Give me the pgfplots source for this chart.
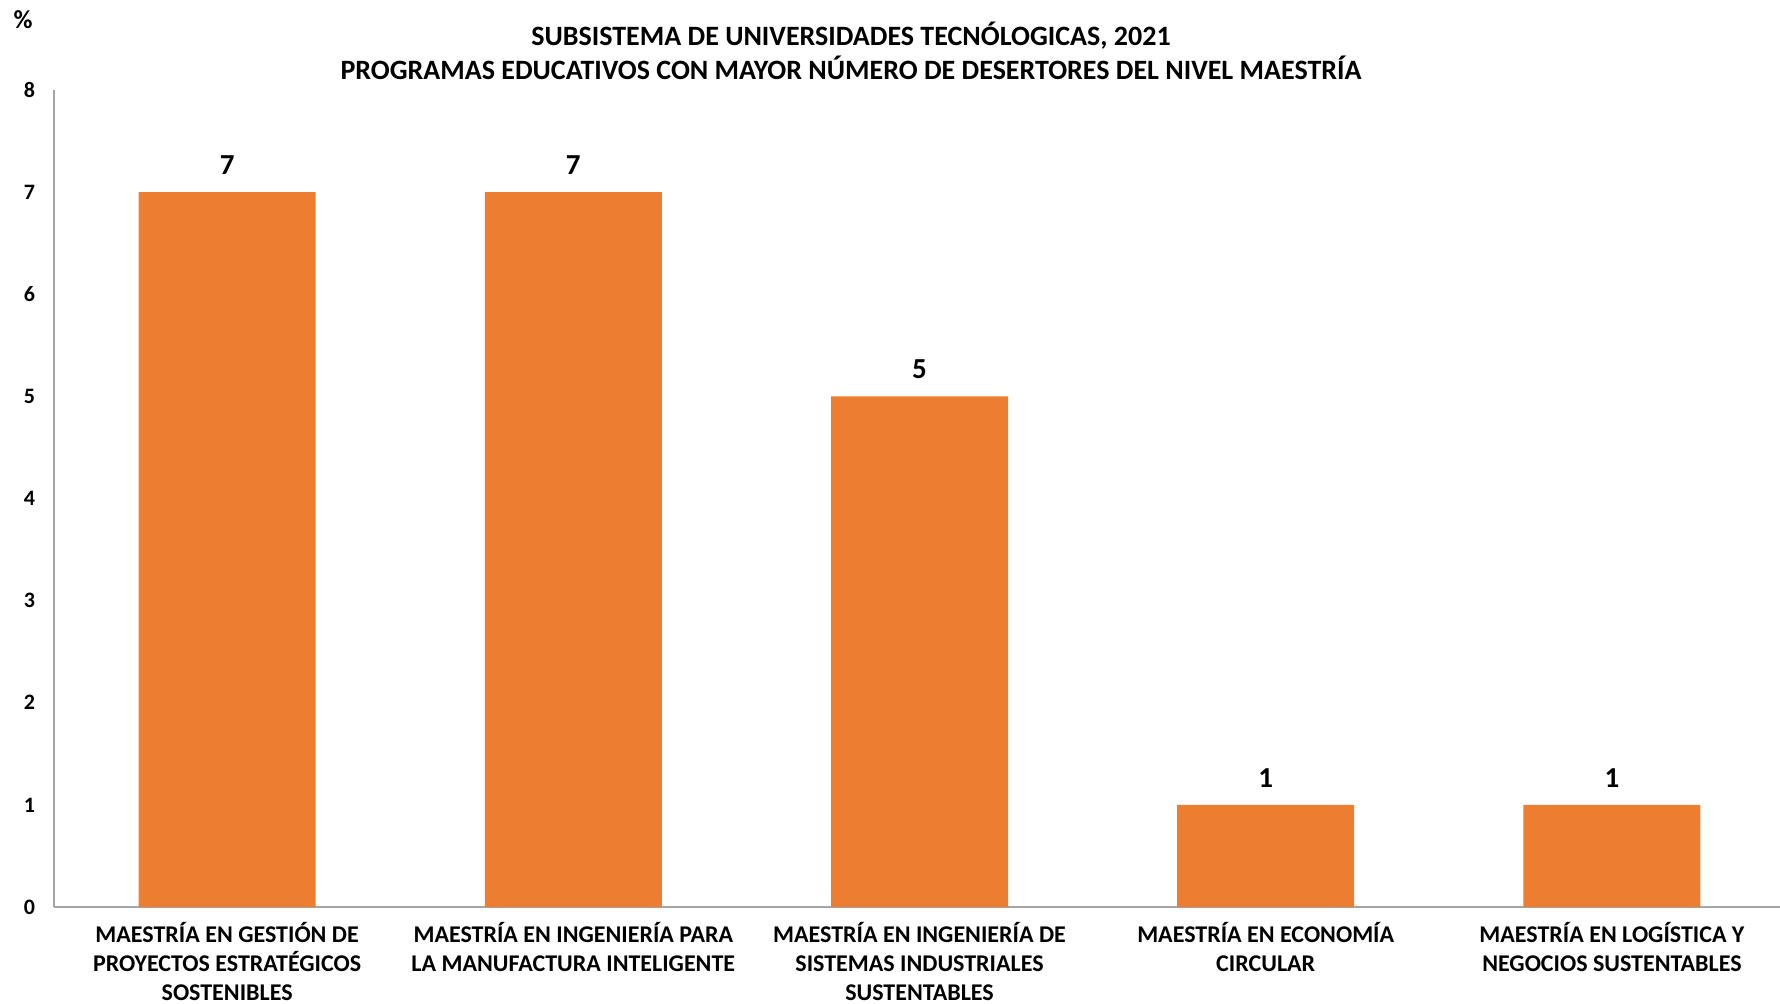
\documentclass[border=0pt]{standalone}
\usepackage{fontspec}
\setmainfont{Carlito}
\usepackage{pgfplots}
\pgfplotsset{compat=1.18}
\definecolor{barorange}{HTML}{ED7D31}
\definecolor{axgray}{RGB}{166,166,166}
\begin{document}
\begin{tikzpicture}
\path[use as bounding box] (0,0) rectangle (890pt,501.5pt);
\begin{axis}[
  at={(27pt,48pt)}, anchor=south west,
  scale only axis, width=865.5pt, height=408.5pt,
  xmin=-0.5, xmax=4.5, ymin=0, ymax=8,
  axis lines*=left,
  axis line style={axgray, line width=0.75pt},
  ytick={0,1,...,8},
  xtick=data,
  xticklabels={{MAESTRÍA EN GESTIÓN DE\\PROYECTOS ESTRATÉGICOS\\SOSTENIBLES},
    {MAESTRÍA EN INGENIERÍA PARA\\LA MANUFACTURA INTELIGENTE},
    {MAESTRÍA EN INGENIERÍA DE\\SISTEMAS INDUSTRIALES\\SUSTENTABLES},
    {MAESTRÍA EN ECONOMÍA\\CIRCULAR},
    {MAESTRÍA EN LOGÍSTICA Y\\NEGOCIOS SUSTENTABLES}},
  major tick length=0pt,
  tick style={draw=none},
  /pgf/number format/assume math mode=true,
  yticklabel style={font=\fontsize{11}{13}\selectfont\bfseries, xshift=-6pt},
  xticklabel style={font=\fontsize{12}{14.5}\selectfont\bfseries, align=center, inner sep=0pt, yshift=-7.6pt},
  ybar, bar width=88.5pt,
  nodes near coords,
  every node near coord/.append style={font=\fontsize{14.5}{17}\selectfont\bfseries, yshift=5.3pt, text=black},
  clip=false,
]
\addplot[fill=barorange, draw=none] coordinates {(0,7) (1,7) (2,5) (3,1) (4,1)};
\end{axis}
\node[font=\fontsize{14}{17}\selectfont\bfseries, align=center] at (425.5pt,476pt)
  {SUBSISTEMA DE UNIVERSIDADES TECNÓLOGICAS, 2021\\PROGRAMAS EDUCATIVOS CON MAYOR NÚMERO DE DESERTORES DEL NIVEL MAESTRÍA};
\node[font=\fontsize{13}{15}\selectfont\bfseries] at (11.5pt,491.5pt) {\%};
\end{tikzpicture}
\end{document}
